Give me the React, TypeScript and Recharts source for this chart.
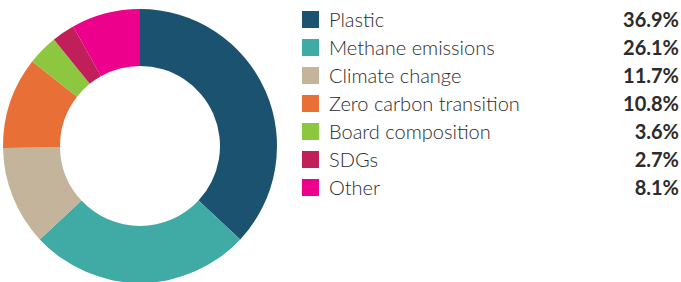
import React from 'react';
import { PieChart, Pie, Cell } from 'recharts';

const categories = ['Plastic', 'Methane emissions', 'Climate change', 'Zero carbon transition', 'Board composition', 'SDGs', 'Other'];
const values = [36.9, 26.1, 11.7, 10.8, 3.6, 2.7, 8.1];
const colors = ['#1a5270', '#40aba5', '#c4b49c', '#e86f35', '#8dc63f', '#c01f5a', '#ec008c'];

const data = categories.map((name, i) => ({ name, value: values[i], color: colors[i] }));

export default function App() {
  return (
    <div style={{ position: 'absolute', left: 0, top: 0, width: 681, height: 282, background: '#fff', fontFamily: 'Lato, "Open Sans", sans-serif', overflow: 'hidden' }}>
      <div style={{ position: 'absolute', left: 0, top: 0 }}>
        <PieChart width={282} height={282} margin={{ top: 0, right: 0, bottom: 0, left: 0 }}>
          <Pie
            data={data}
            dataKey="value"
            cx={140}
            cy={146}
            innerRadius={80}
            outerRadius={137}
            startAngle={90}
            endAngle={-270}
            stroke="none"
            isAnimationActive={false}
          >
            {data.map((d, i) => (
              <Cell key={`c-${i}`} fill={d.color} />
            ))}
          </Pie>
        </PieChart>
      </div>

      {/* legend */}
      {data.map((d, i) => (
        <div key={d.name} style={{ position: 'absolute', left: 302, top: 5 + i * 28, width: 377, height: 28, display: 'flex', alignItems: 'center' }}>
          <div style={{ width: 17, height: 17, background: d.color, flexShrink: 0 }} />
          <span style={{ marginLeft: 10, fontSize: 20, color: '#2b2b2b', fontWeight: 300 }}>{d.name}</span>
          <span style={{ marginLeft: 'auto', fontSize: 20, color: '#2b2b2b', fontWeight: 700 }}>{d.value.toFixed(1)}%</span>
        </div>
      ))}
    </div>
  );
}
